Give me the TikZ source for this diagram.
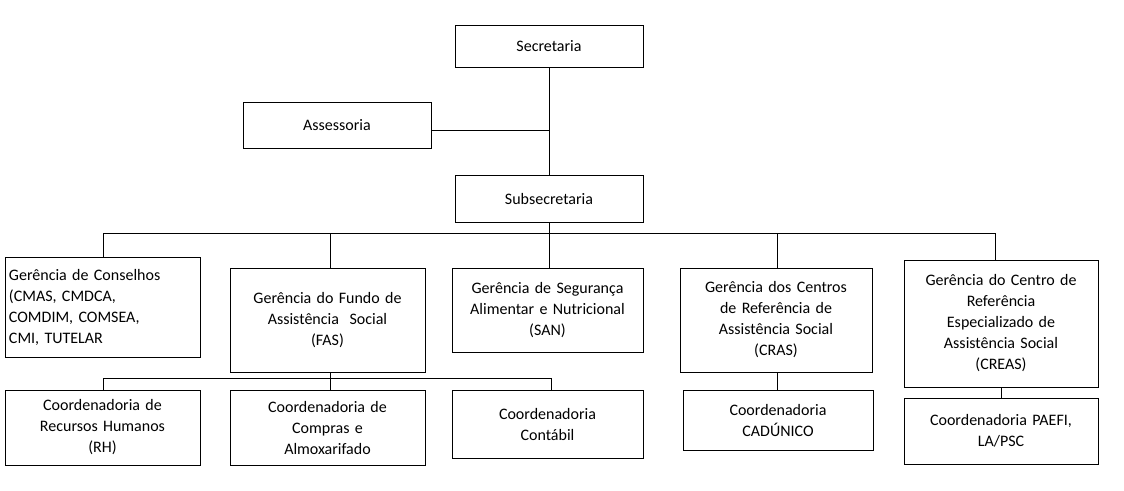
\documentclass[tikz,border=0pt]{standalone}
\usepackage{fontspec}
\setmainfont{Carlito}
\begin{document}
\begin{tikzpicture}[x=1pt,y=-1pt,
  bx/.style={draw,line width=1pt,align=center,font=\fontsize{16}{21}\selectfont,inner sep=0pt},
  ln/.style={line width=0.8pt}]
\useasboundingbox (0,0) rectangle (1124,490);
\newcommand{\bx}[6]{\node[bx,minimum width=#4-#2,minimum height=#5-#3,text width=#4-#2-6] (#1) at ({(#2+#4)/2},{(#3+#5)/2}) {#6};}
\bx{sec}{455}{25}{643}{67}{Secretaria}
\bx{ass}{243}{102}{431}{148}{Assessoria}
\bx{sub}{455}{175}{643}{222}{Subsecretaria}
\node[bx,minimum width=195,minimum height=100,text width=187,align=left] (g1) at (102.5,307) {Gerência de Conselhos\\(CMAS, CMDCA,\\COMDIM, COMSEA,\\CMI, TUTELAR};
\bx{g2}{230}{268}{425}{372}{Gerência do Fundo de\\Assistência~ Social\\(FAS)}
\bx{g3}{452}{268}{643}{352}{Gerência de Segurança\\Alimentar e Nutricional\\(SAN)}
\bx{g4}{680}{268}{872}{372}{Gerência dos Centros\\de Referência de\\Assistência Social\\(CRAS)}
\bx{g5}{904}{260}{1098}{387}{Gerência do Centro de\\Referência\\Especializado de\\Assistência Social\\(CREAS)}
\bx{c1}{5}{390}{200}{465}{Coordenadoria de\\Recursos Humanos\\(RH)}
\bx{c2}{230}{390}{425}{465}{Coordenadoria de\\Compras e\\Almoxarifado}
\bx{c3}{452}{390}{643}{458}{Coordenadoria\\Contábil}
\bx{c4}{683}{390}{873}{450}{Coordenadoria\\CADÚNICO}
\bx{c5}{904}{398}{1098}{464}{Coordenadoria PAEFI,\\LA/PSC}
\coordinate (j) at (549,130);
\draw[ln] (sec) -- (sub);
\draw[ln] (ass.east |- j) -- (j);
\coordinate (b0) at (549,233);
\draw[ln] (sub) -- (b0);
\draw[ln] (103,233) -- (995,233);
\draw[ln] (103,233) -- (g1.north -| 103,0);
\foreach \n/\x in {g2/330,g3/549,g4/777,g5/995}{\draw[ln] (\x,233) -- (\n.north -| \x,0);}
\draw[ln] (g2.south -| 330,0) -- (330,378);
\draw[ln] (103,378) -- (551,378);
\draw[ln] (103,378) -- (c1.north -| 103,0);
\draw[ln] (330,378) -- (c2.north -| 330,0);
\draw[ln] (551,378) -- (c3.north -| 551,0);
\draw[ln] (g4.south -| 777,0) -- (c4.north -| 777,0);
\draw[ln] (g5) -- (c5);
\end{tikzpicture}
\end{document}
